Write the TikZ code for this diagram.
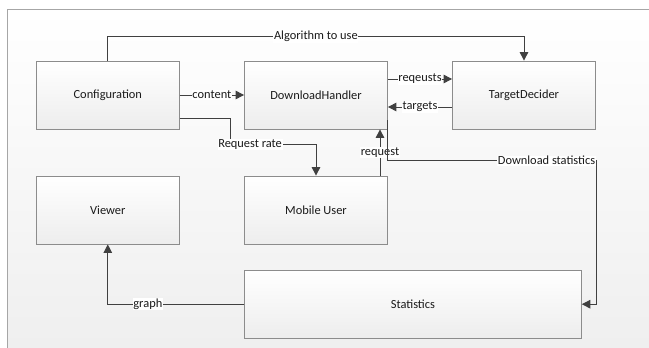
\documentclass[tikz,border=0pt]{standalone}
\usepackage{fontspec}
\setmainfont{Carlito}
\usetikzlibrary{arrows.meta}
\definecolor{boxline}{HTML}{8C8C8C}
\definecolor{boxbot}{HTML}{EDEDED}
\definecolor{lnk}{HTML}{404040}
\definecolor{txt}{HTML}{1A1A1A}
\definecolor{bgbot}{HTML}{EFEFEF}
\definecolor{framecol}{HTML}{A6A6A6}
\begin{document}
\begin{tikzpicture}[x=1pt,y=-1pt,
  block/.style={draw=boxline, line width=0.8pt, top color=white, bottom color=boxbot,
    minimum width=143pt, minimum height=68pt, inner sep=0pt,
    font=\fontsize{12.4}{14}\selectfont, text=txt},
  link/.style={draw=lnk, line width=1pt, -{Triangle[length=8.5pt,width=8.5pt]}},
  tag/.style={fill=white, inner sep=0.6pt, font=\fontsize{12.4}{14}\selectfont, text=txt}]
  \useasboundingbox (0,0) rectangle (649,348);
  % page background and frame
  \shade[top color=white, bottom color=bgbot] (7.5,9) rectangle (649,348);
  \draw[framecol, line width=0.8pt] (7.5,348) -- (7.5,9) -- (649,9);

  % components
  \node[block] (conf) at (107.8,95) {Configuration};
  \node[block] (dh)   at (316,95)   {DownloadHandler};
  \node[block] (td)   at (524,95)   {TargetDecider};
  \node[block] (vw)   at (107.8,210) {Viewer};
  \node[block] (mu)   at (316,210)  {Mobile User};
  \node[block, minimum width=337pt] (st) at (412.9,304.2) {Statistics};

  % data flows
  \draw[link] (conf.north) -- ++(0,-24) -| node[tag,pos=0.25] {Algorithm to use} (td.north);
  \draw[link] (conf.east) -- node[tag] {content} (dh.west);
  \draw[link] ([yshift=16pt]dh.east) -- node[tag] {reqeusts} ([yshift=16pt]td.west);
  \draw[link] ([yshift=-12pt]td.west) -- node[tag] {targets} ([yshift=-12pt]dh.east);
  \draw[link] ([yshift=-23.3pt]conf.east) -- ++(50.7,0) -- ++(0,26)
    -| node[tag,pos=0.115] {Request rate} (mu.north);
  \draw[link] ([xshift=64pt]mu.north) -- node[tag] {request} ([xshift=64pt]dh.south);
  \coordinate (dsc) at (596,160.7);
  \draw[link] ([yshift=-25pt]dh.east) |- (dsc) |- (st.east);
  \node[tag, anchor=east] (dsl) at (dsc) {Download statistics};
  \draw[link] (st.west) -| node[tag,pos=0.353] {graph} (vw.south);
\end{tikzpicture}
\end{document}
